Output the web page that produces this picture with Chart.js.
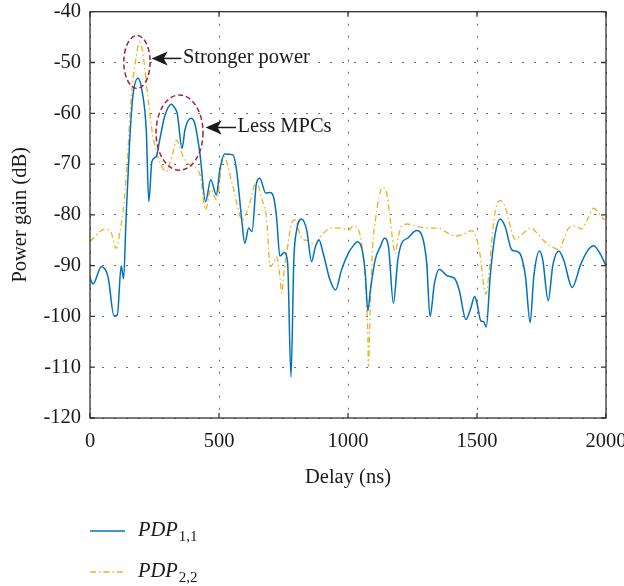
<!DOCTYPE html>
<html><head><meta charset="utf-8">
<script src="https://cdn.jsdelivr.net/npm/chart.js@4"></script>
<style>html,body{margin:0;padding:0;background:#fff}#wrap{width:624px;height:586px}</style>
</head><body><div id="wrap"><canvas id="c" width="624" height="586"></canvas></div>
<script>
// ---- data ----
const delay1 = [0,12,44,70,93,106,121,130,140,154,166,186,201,218,228,240,257,270,289,315,329,338,357,368,391,406,426,448,468,490,503,522,554,568,587,600,615,628,645,658,681,698,711,723,736,753,766,779,790,801,820,840,859,872,887,904,930,952,975,1003,1017,1038,1056,1067,1077,1087,1105,1125,1141,1157,1176,1193,1208,1231,1266,1288,1305,1318,1335,1354,1384,1413,1431,1457,1474,1491,1500,1515,1525,1536,1551,1571,1590,1609,1635,1655,1671,1688,1706,1720,1742,1755,1776,1794,1817,1836,1869,1901,1927,1952,1972,2000];
const power1 = [-92.5,-93.6,-90.2,-92.2,-99.9,-99.7,-90,-92.6,-80.4,-65.3,-56.7,-53.1,-55.4,-63.3,-77.4,-69.5,-68.5,-65.3,-60.7,-58.2,-59,-60,-66.9,-63.3,-61,-62,-67.9,-77.4,-73.1,-76.1,-71.2,-68,-68.2,-71.2,-80.4,-85.6,-82.6,-83.3,-73.8,-72.8,-75.7,-75.6,-76.4,-80.4,-88.1,-87.4,-89.5,-111.9,-88.9,-83,-80.8,-83,-89.2,-86.6,-84.9,-87.6,-92.8,-94.8,-90.8,-87.4,-86.3,-85.3,-87.2,-91.5,-98.9,-94.8,-88.9,-86.3,-84.6,-86.3,-97.4,-88.9,-85.6,-84.6,-83.1,-84.3,-89.5,-100,-93.5,-90.7,-92,-92.5,-94.8,-100.6,-98.7,-96.1,-97.4,-100.9,-101,-102.1,-92.2,-83.6,-80.8,-82.3,-86.9,-87.2,-88.1,-92.2,-101.2,-92.2,-87.1,-88.9,-96.9,-89.9,-87.1,-88.9,-94.3,-89.9,-87.2,-86.1,-87.2,-90];
const delay2 = [0,24,57,80,102,115,128,144,160,179,192,205,224,244,270,295,321,335,361,387,426,448,468,490,518,554,590,619,645,665,685,698,711,723,736,743,753,766,781,794,820,846,872,898,936,975,1002,1021,1047,1060,1069,1077,1079,1086,1095,1108,1121,1134,1150,1163,1172,1183,1195,1208,1231,1266,1311,1350,1377,1416,1455,1481,1496,1513,1525,1535,1545,1560,1573,1590,1609,1629,1648,1671,1687,1707,1733,1759,1791,1819,1836,1856,1881,1904,1930,1952,1972,1988,2000];
const power2 = [-85.3,-84,-82.8,-83.3,-86.6,-83.6,-79.4,-69.8,-56.7,-48.9,-46,-48.2,-56.7,-64.6,-69.5,-71.5,-67.9,-65.3,-68.5,-70.2,-72,-79,-75,-77,-68.5,-74.4,-81,-77.7,-73.5,-76.7,-81,-90.2,-89.5,-88.2,-92.2,-95.4,-90.8,-86.3,-81.7,-81,-84.6,-85.1,-85.9,-84,-82.6,-82.6,-83,-82.2,-84,-88.9,-94.8,-104,-109.9,-98.7,-86.9,-80.4,-76.4,-74.6,-75.7,-80.4,-84.6,-87.6,-84.3,-82.2,-81.8,-82.3,-82.6,-82.6,-83.3,-84.2,-83.6,-83.1,-84.3,-88.2,-93.5,-95.6,-92.2,-83.6,-78.7,-77.2,-78.4,-82.3,-84.8,-84,-83.3,-82.6,-83.6,-85.1,-86.3,-86.8,-84.9,-82.6,-82.2,-82.8,-80.7,-78.7,-79.7,-80.7,-81];
const seriesNames = ['PDP', 'PDP'];
const seriesSubs = ['1,1', '2,2'];
const xTicks = [0, 500, 1000, 1500, 2000];
const yTicks = [-120, -110, -100, -90, -80, -70, -60, -50, -40];
const xTitle = 'Delay (ns)';
const yTitle = 'Power gain (dB)';
// annotations (data units)
const ellipses = [{c:[182,-49.9], r:[51,5.2]}, {c:[347,-63.8], r:[91,7.4]}];
const notes = [
  {text:'Stronger power', tip:[239,-49.2], tail:[354,-49.2], at:[360,-49.2]},
  {text:'Less MPCs', tip:[448,-62.8], tail:[566,-62.8], at:[572,-62.8]}
];

const SERIF = "'Liberation Serif', 'DejaVu Serif', serif";
const FS = 20.5;
const BLUE = '#0072BD', ORANGE = '#EDB120';

const toXY = (xs, ys) => xs.map((v, i) => ({x: v, y: ys[i]}));

const decor = {
  id: 'decor',
  afterDraw(chart) {
    const {ctx, chartArea: a, scales: {x, y}} = chart;
    ctx.save();
    // frame
    ctx.strokeStyle = '#333'; ctx.lineWidth = 1.3; ctx.setLineDash([]);
    ctx.strokeRect(a.left, a.top, a.right - a.left, a.bottom - a.top);
    // inward ticks
    ctx.beginPath();
    xTicks.forEach(v => { const px = x.getPixelForValue(v);
      ctx.moveTo(px, a.bottom); ctx.lineTo(px, a.bottom - 5);
      ctx.moveTo(px, a.top); ctx.lineTo(px, a.top + 5); });
    yTicks.forEach(v => { const py = y.getPixelForValue(v);
      ctx.moveTo(a.left, py); ctx.lineTo(a.left + 5, py);
      ctx.moveTo(a.right, py); ctx.lineTo(a.right - 5, py); });
    ctx.stroke();
    // ellipses
    ctx.strokeStyle = '#A3203E'; ctx.lineWidth = 1.5; ctx.setLineDash([5, 3]);
    ellipses.forEach(e => {
      const cx = x.getPixelForValue(e.c[0]), cy = y.getPixelForValue(e.c[1]);
      const rx = x.getPixelForValue(e.c[0] + e.r[0]) - cx;
      const ry = y.getPixelForValue(e.c[1] - e.r[1]) - cy;
      ctx.beginPath(); ctx.ellipse(cx, cy, rx, ry, 0, 0, Math.PI * 2); ctx.stroke();
    });
    // arrows + texts
    ctx.setLineDash([]);
    ctx.strokeStyle = '#1a1a1a'; ctx.fillStyle = '#1a1a1a'; ctx.lineWidth = 1.5;
    ctx.font = FS + 'px ' + SERIF; ctx.textBaseline = 'middle'; ctx.textAlign = 'left';
    notes.forEach(n => {
      const tx = x.getPixelForValue(n.tip[0]), ty = y.getPixelForValue(n.tip[1]);
      const ex = x.getPixelForValue(n.tail[0]);
      ctx.beginPath(); ctx.moveTo(tx + 8, ty); ctx.lineTo(ex, ty); ctx.stroke();
      ctx.beginPath(); ctx.moveTo(tx, ty); ctx.lineTo(tx + 16, ty - 7);
      ctx.lineTo(tx + 12, ty); ctx.lineTo(tx + 16, ty + 7); ctx.closePath(); ctx.fill();
      ctx.fillText(n.text, x.getPixelForValue(n.at[0]), y.getPixelForValue(n.at[1]) - 1);
    });
    // legend
    const ds = chart.data.datasets;
    const ly = [531, 572];
    ds.forEach((d, i) => {
      ctx.strokeStyle = d.borderColor; ctx.lineWidth = d.borderWidth;
      ctx.setLineDash(d.borderDash || []);
      ctx.beginPath(); ctx.moveTo(a.left, ly[i]); ctx.lineTo(a.left + 35, ly[i]); ctx.stroke();
      ctx.setLineDash([]);
      ctx.fillStyle = '#1a1a1a';
      ctx.font = 'italic ' + FS + 'px ' + SERIF;
      ctx.textBaseline = 'middle';
      const tx = a.left + 48;
      ctx.fillText(seriesNames[i], tx, ly[i]);
      const w = ctx.measureText(seriesNames[i]).width;
      ctx.font = '15px ' + SERIF;
      ctx.fillText(seriesSubs[i], tx + w + 1, ly[i] + 6);
    });
    ctx.restore();
  }
};

new Chart(document.getElementById('c'), {
  type: 'line',
  data: {
    datasets: [
      {label: 'PDP1,1', data: toXY(delay1, power1), borderColor: BLUE, borderWidth: 1.5,
       pointRadius: 0, cubicInterpolationMode: 'monotone', fill: false},
      {label: 'PDP2,2', data: toXY(delay2, power2), borderColor: ORANGE, borderWidth: 1.3,
       borderDash: [6, 3, 1.5, 3], pointRadius: 0, cubicInterpolationMode: 'monotone', fill: false}
    ]
  },
  options: {
    responsive: false, animation: false, devicePixelRatio: 1,
    layout: {padding: {top: 0, right: 18, left: 0, bottom: 0}},
    plugins: {legend: {display: false}, tooltip: {enabled: false}},
    scales: {
      x: {type: 'linear', min: 0, max: 2000,
        afterBuildTicks: s => { s.ticks = xTicks.map(v => ({value: v})); },
        afterFit: s => { s.height = 168; s.paddingLeft = 0; s.paddingRight = 0; },
        ticks: {font: {family: SERIF, size: FS}, color: '#1a1a1a', padding: 11, maxRotation: 0,
                callback: v => String(v)},
        grid: {color: '#6a6a6a', lineWidth: 1, drawTicks: false},
        border: {display: false, dash: [2, 10]},
        title: {display: true, text: xTitle, font: {family: SERIF, size: FS}, color: '#1a1a1a',
                padding: {top: 0, bottom: 96}}},
      y: {type: 'linear', min: -120, max: -40,
        afterBuildTicks: s => { s.ticks = yTicks.map(v => ({value: v})); },
        afterFit: s => { s.width = 90; s.paddingTop = 11.7; s.paddingBottom = 0; },
        ticks: {font: {family: SERIF, size: FS}, color: '#1a1a1a', padding: 9,
                callback: v => String(v)},
        grid: {color: '#6a6a6a', lineWidth: 1, drawTicks: false},
        border: {display: false, dash: [2, 10]},
        title: {display: true, text: yTitle, font: {family: SERIF, size: FS}, color: '#1a1a1a',
                padding: {top: 8, bottom: 0}}}
    }
  },
  plugins: [decor]
});
</script></body></html>
